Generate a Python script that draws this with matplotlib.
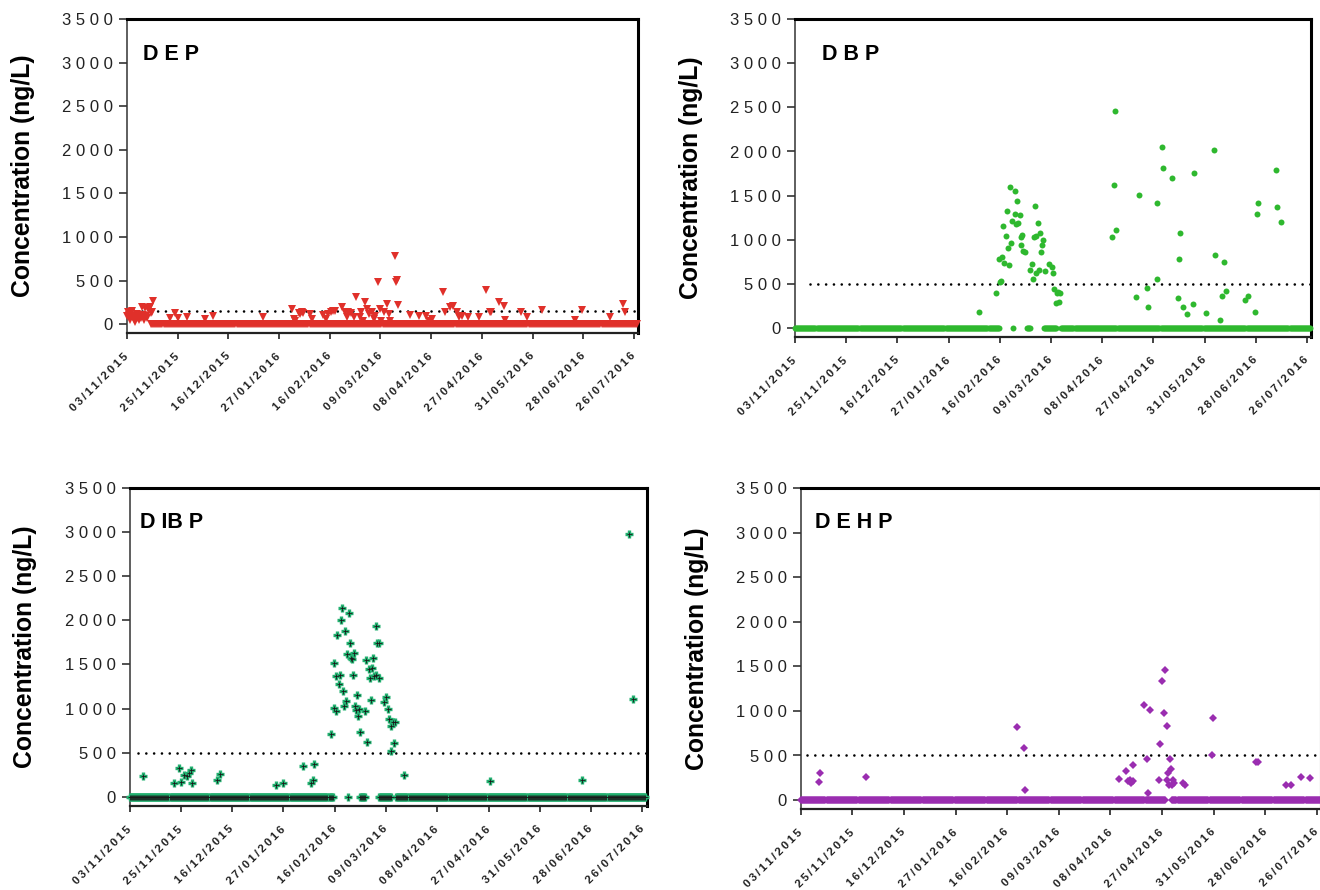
import numpy as np
import matplotlib
matplotlib.use("Agg")
import matplotlib.pyplot as plt

plt.rcParams['font.family'] = ['Liberation Sans', 'DejaVu Sans']

# ---------------- data ----------------
tick_dates = ["03/11/2015", "25/11/2015", "16/12/2015", "27/01/2016", "16/02/2016",
              "09/03/2016", "08/04/2016", "27/04/2016", "31/05/2016", "28/06/2016", "26/07/2016"]
tick_idx = [0, 50, 100, 150, 200, 250, 300, 350, 400, 450, 500]
y_ticks = [0, 500, 1000, 1500, 2000, 2500, 3000, 3500]

# DEP (red down triangles)
dep_idx = [0, 1, 2, 3, 4, 5, 6, 7, 8, 9, 10, 11, 12, 13, 14, 15, 16, 17, 18, 19, 20, 21, 22, 23, 24, 25, 26,
           42, 47, 50, 59, 77, 85, 134, 163, 165, 166, 170, 171, 173, 174, 180, 182,
           193, 196, 198, 201, 203, 205, 212, 215, 217, 218, 221, 224, 226, 230, 231, 233,
           235, 237, 239, 242, 244, 245, 248, 250, 251, 253, 256, 258, 259, 264, 265, 266, 267,
           279, 288, 295, 298, 301, 312, 314, 319, 322, 325, 327, 330, 336, 347, 354, 358, 359,
           367, 372, 373, 389, 395, 409, 442, 449, 476, 489, 491]
dep_val = [92, 141, 110, 46, 130, 149, 84, 60, 26, 100, 115, 70, 54, 95, 77, 199, 110, 46, 185, 90, 77, 180, 172, 195, 130, 141, 264,
           70, 126, 69, 80, 65, 90, 80, 170, 60, 39, 135, 117, 145, 125, 117, 59,
           105, 59, 117, 137, 148, 156, 195, 137, 78, 145, 133, 78, 312, 86, 137, 39,
           254, 176, 117, 137, 59, 98, 480, 176, 39, 137, 234, 117, 39, 781, 488, 508, 226,
           109, 98, 98, 39, 59, 371, 137, 195, 215, 137, 78, 98, 78, 78, 390, 137, 137,
           254, 215, 47, 137, 78, 164, 47, 164, 78, 234, 137]
dep_zero_runs = [(24, 503)]
dep_limit = 150

# DBP (green circles)
dbp_idx = [180, 196, 200, 201, 199, 202, 204, 209, 208, 211, 206, 203, 207, 212, 216, 218, 215, 220, 217,
           210, 215, 221, 222, 221, 223, 225, 231, 230, 232, 235, 238, 244, 233, 235, 237, 239, 234,
           242, 241, 240, 248, 251, 252, 253, 256, 257, 259, 255, 258,
           310, 313, 314, 312, 333, 336, 344, 345, 354, 354, 358, 359, 368, 374, 376, 375, 379,
           383, 389, 390, 401, 409, 410, 415, 417, 419, 421, 440, 442, 449, 451, 452, 470, 471, 475]
dbp_val = [185, 396, 528, 536, 785, 800, 743, 717, 910, 966, 1042, 1159, 1328, 1215, 1178, 1189, 1294, 1283, 1434,
           1596, 1555, 1027, 1057, 936, 876, 857, 721, 664, 555, 619, 653, 649, 1027, 1038, 1189, 1072, 1385,
           993, 944, 857, 725, 691, 619, 445, 393, 415, 393, 287, 294,
           1034, 2460, 1113, 1623, 355, 1510, 460, 234, 562, 1419, 2053, 1808, 1702, 336, 1079, 785, 238,
           166, 279, 1762, 174, 2012, 827, 87, 359, 751, 419, 321, 366, 185, 1298, 1415, 1785, 1374, 1200]
dbp_zero_runs = [(0, 199), (213, 213), (227, 230), (243, 255), (260, 503)]
dbp_limit = 500

# DIBP (green plus)
dibp_idx = [13, 43, 48, 50, 53, 56, 58, 60, 61, 85, 88, 143, 150, 169, 177, 179, 180,
            196, 199, 201, 205, 204, 199, 201, 208, 211, 209, 202, 206, 207, 210, 214, 215, 212,
            216, 217, 219, 218, 222, 220, 221, 224, 223, 225, 230, 232, 231, 233, 236, 234, 237,
            238, 240, 235, 240, 241, 243, 243, 248, 250, 252, 253, 255, 257, 259, 258, 255,
            268, 351, 441, 487, 491]
dibp_val = [235, 155, 326, 170, 246, 235, 277, 307, 155, 189, 258, 140, 155, 348, 155, 189, 371,
            712, 1519, 1375, 1383, 1280, 1008, 970, 1201, 1087, 1030, 1837, 2008, 2133, 1883, 2076, 1746, 1621,
            1576, 1561, 1633, 1383, 1155, 1030, 989, 996, 917, 735, 977, 625, 1546, 1443, 1455, 1349, 1576,
            1367, 1379, 1099, 1932, 1746, 1746, 1349, 1080, 1133, 996, 886, 803, 852, 852, 610, 519,
            246, 178, 189, 2973, 1110]
dibp_zero_runs = [(0, 198), (213, 213), (225, 230), (243, 255), (260, 503)]
dibp_limit = 500

# DEHP (purple diamonds)
dehp_idx = [18, 19, 63, 210, 216, 217, 308, 315, 317, 319, 320, 322, 322, 333, 335, 336, 338,
            347, 348, 350, 352, 353, 355, 355, 356, 357, 358, 359, 360, 361, 362, 370, 372,
            398, 399, 441, 443, 470, 475, 485, 493]
dehp_val = [206, 299, 262, 823, 580, 112, 232, 325, 213, 228, 191, 213, 389, 1070, 456, 79, 1006,
            228, 625, 1335, 972, 1462, 826, 224, 303, 165, 456, 352, 165, 224, 191, 187, 165,
            501, 924, 430, 430, 168, 168, 258, 247]
dehp_zero_runs = [(0, 353), (360, 503)]
dehp_limit = 500

# ---------------- figure ----------------
W, H = 1320, 890
fig = plt.figure(figsize=(W / 100, H / 100), dpi=100)


def make_ax(left, top, right, bottom):
    return fig.add_axes([left / W, 1 - bottom / H, (right - left) / W, (bottom - top) / H])


def zeros_from_runs(runs):
    xs = np.concatenate([np.arange(a, b + 1) for a, b in runs])
    return xs, np.zeros_like(xs, dtype=float)


def style_ax(ax, title, title_dx, limit, limit_start):
    ax.set_xlim(0, 504)
    ax.set_ylim(-100, 3500)
    ax.set_yticks(y_ticks)
    ax.set_yticklabels([" ".join(str(v)) for v in y_ticks])
    ax.set_xticks(tick_idx)
    ax.set_xticklabels(["\u2009".join(d) for d in tick_dates], rotation=45, ha='right',
                       va='center', rotation_mode='anchor', fontweight='bold', fontsize=8.2)
    ax.tick_params(axis='y', length=6, width=1.1, pad=4, labelsize=12, colors='#222222')
    ax.tick_params(axis='x', length=4.5, width=1.2, pad=11, colors='#222222')
    for s in ['top', 'right']:
        ax.spines[s].set_linewidth(2.2)
        ax.spines[s].set_color('black')
    ax.spines['left'].set_linewidth(1.1)
    ax.spines['left'].set_color('#333333')
    ax.spines['bottom'].set_linewidth(1.6)
    ax.spines['bottom'].set_color('#222222')
    ax.set_ylabel("Concentration (ng/L)", fontsize=17.8, fontweight='bold', va='center')
    bb = ax.get_position()
    width_px = bb.width * W
    ax.yaxis.set_label_coords(-104 / width_px, 0.5)
    ax.text(title_dx / width_px, 1 - 35 / (bb.height * H), title, transform=ax.transAxes,
            fontsize=15.5, fontweight='bold', ha='left', va='center')
    ax.plot([limit_start, 504], [limit, limit], color='black', lw=1.9,
            linestyle=(0, (0.01, 2.95)), dash_capstyle='round', zorder=1)


# DEP
ax1 = make_ax(127, 19, 638, 333)
style_ax(ax1, "D E P", 16, dep_limit, 14.5)
zx, zy = zeros_from_runs(dep_zero_runs)
ax1.plot(zx, zy, 'v', color='#E0302A', ms=6, mew=0, clip_on=False, zorder=3)
ax1.plot(dep_idx, dep_val, 'v', color='#E0302A', ms=6, mew=0, clip_on=False, zorder=3)

# DBP
ax2 = make_ax(795, 19, 1311, 337)
style_ax(ax2, "D B P", 27, dbp_limit, 14.5)
zx, zy = zeros_from_runs(dbp_zero_runs)
ax2.plot(zx, zy, 'o', color='#2EB82E', ms=4.3, mew=0, clip_on=False, zorder=3)
ax2.plot(dbp_idx, dbp_val, 'o', color='#2EB82E', ms=4.3, mew=0, clip_on=False, zorder=3)

# DIBP
ax3 = make_ax(129.5, 487.5, 646.5, 806)
style_ax(ax3, "D IB P", 11, dibp_limit, 8)
zx, zy = zeros_from_runs(dibp_zero_runs)
for xs, ys in [(zx, zy), (dibp_idx, dibp_val)]:
    ax3.plot(xs, ys, '+', color='#22B070', ms=5.5, mew=2.4, clip_on=False, zorder=3)
    ax3.plot(xs, ys, '+', color='#1a1a1a', ms=3.6, mew=0.6, clip_on=False, zorder=4)

# DEHP
ax4 = make_ax(800.7, 488, 1321, 809)
style_ax(ax4, "D E H P", 14, dehp_limit, 6)
zx, zy = zeros_from_runs(dehp_zero_runs)
ax4.plot(zx, zy, 'D', color='#9A2DB0', ms=4, mew=0, clip_on=False, zorder=3)
ax4.plot(dehp_idx, dehp_val, 'D', color='#9A2DB0', ms=4, mew=0, clip_on=False, zorder=3)

fig.savefig("out.png", dpi=100)
